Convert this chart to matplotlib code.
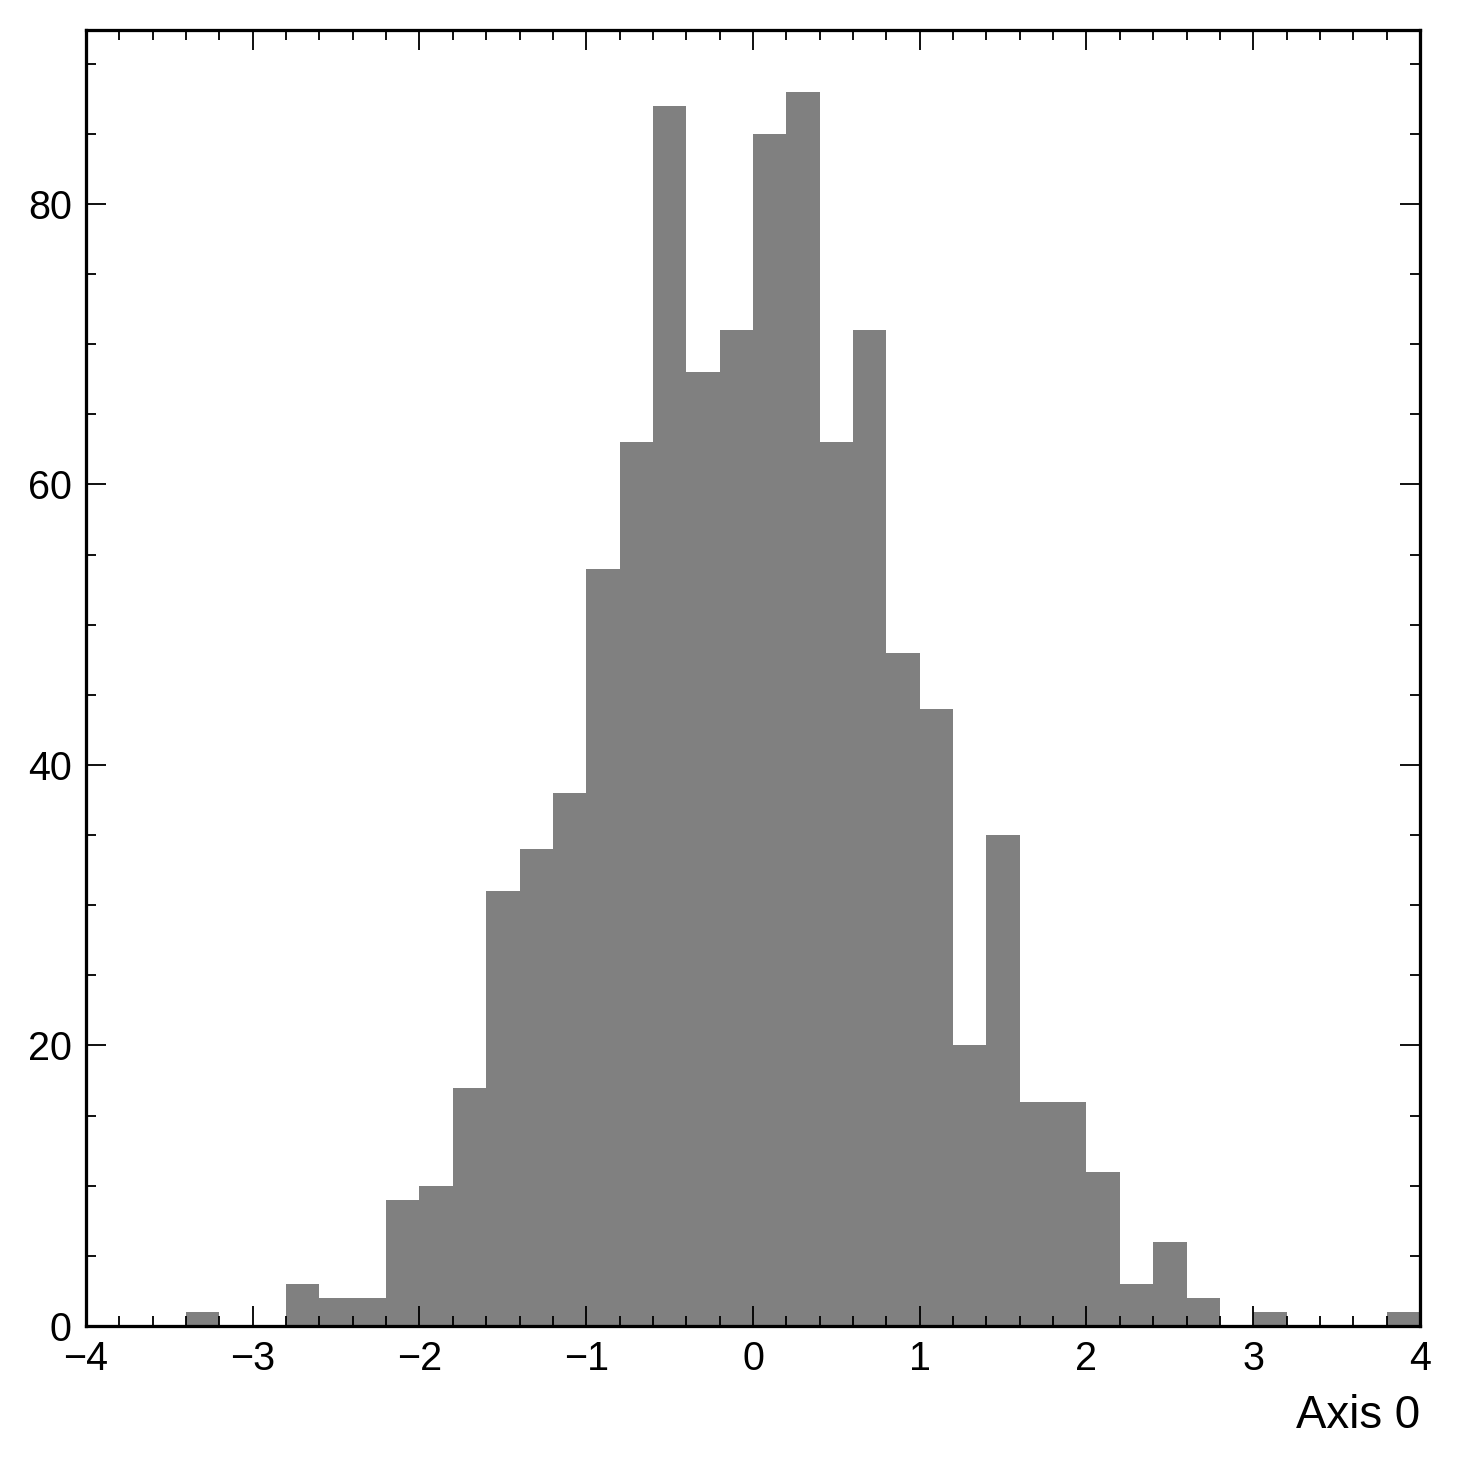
import numpy as np
import matplotlib
matplotlib.use("Agg")
import matplotlib.pyplot as plt
from matplotlib.ticker import MultipleLocator

plt.rcParams['font.family'] = ['Liberation Sans', 'DejaVu Sans']

# 40 bins of width 0.2 between -4 and 4
bin_edges = np.linspace(-4, 4, 41)
counts = [0, 0, 0, 1, 0, 0, 3, 2, 2, 9,
          10, 17, 31, 34, 38, 54, 63, 87, 68, 71,
          85, 88, 63, 71, 48, 44, 20, 35, 16, 16,
          11, 3, 6, 2, 0, 1, 0, 0, 0, 1]
x_label = "Axis 0"

dpi = 146.1
fig = plt.figure(figsize=(10, 10), dpi=dpi)
ax = fig.add_axes([86 / 1461, 1 - 1326 / 1461, (1420 - 86) / 1461, (1326 - 30) / 1461])

ax.stairs(counts, bin_edges, fill=True, color="#808080", linewidth=0)

ax.set_xlim(-4, 4)
ax.set_ylim(0, 92.4)
ax.xaxis.set_major_locator(MultipleLocator(1))
ax.xaxis.set_minor_locator(MultipleLocator(0.2))
ax.yaxis.set_major_locator(MultipleLocator(20))
ax.yaxis.set_minor_locator(MultipleLocator(5))

ax.tick_params(which="both", direction="in", top=True, right=True, labelsize=19.5, width=0.9, colors="black")
ax.tick_params(which="major", length=9.8, pad=7)
ax.tick_params(which="minor", length=4.9)
for sp in ax.spines.values():
    sp.set_linewidth(1.6)

ax.set_xlabel(x_label, fontsize=22.5, loc="right", labelpad=8)

fig.savefig("out.png", dpi=dpi)
